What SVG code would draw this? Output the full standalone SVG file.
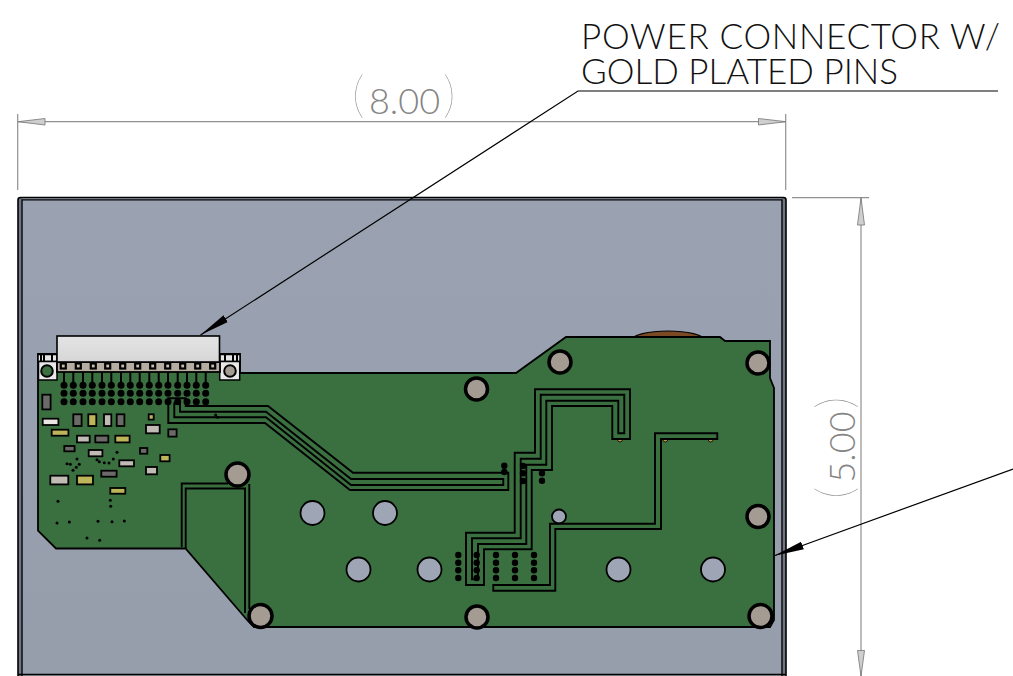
<svg xmlns="http://www.w3.org/2000/svg" xmlns:xlink="http://www.w3.org/1999/xlink" width="1013" height="676" viewBox="0 0 1013 676">
<style>
.ln{fill:none;stroke:#000;stroke-width:1.9;stroke-linejoin:miter}
.dim{fill:none;stroke:#909090;stroke-width:1.2}
.head{fill:#cfcfcf;stroke:#808080;stroke-width:.9}
.dt{font-family:"Lato","Liberation Sans",sans-serif;font-weight:300;fill:#858585;font-size:36px}
.par{font-family:"Lato","Liberation Sans",sans-serif;font-weight:100;fill:#8c8c8c;font-size:50px}
.lab{font-family:"Lato","Liberation Sans",sans-serif;font-weight:300;fill:#111;font-size:35px}
.lead{fill:none;stroke:#000;stroke-width:1.2}
.hole{fill:#a49b93;stroke:#000;stroke-width:3.5}
.thru{fill:#9ea5b5;stroke:#000;stroke-width:1.8}
.c{stroke:#000;stroke-width:1.8}
.y{fill:#bdb55a}.g{fill:#c0bbb4}.d{fill:#6b6a68}.w{fill:#e8e6e2}
.v{fill:#000}
</style>
<defs>
<linearGradient id="plate" x1="0" y1="0" x2="0" y2="1"><stop offset="0" stop-color="#9aa1b1"/><stop offset="1" stop-color="#969eac"/></linearGradient>
<linearGradient id="conn" x1="0" y1="0" x2="0" y2="1"><stop offset="0" stop-color="#e4e4e4"/><stop offset="1" stop-color="#d6d6d6"/></linearGradient>
<g id="pin"><rect x="-1" y="371" width="2" height="14" fill="#000"/><circle cy="385.300" r="3.500"/><circle cy="393.300" r="3.500"/><circle cy="401.700" r="3.500"/></g>
<g id="sq"><rect x="-2.500" y="363.500" width="5" height="5" fill="#c9c0b4" stroke="#000" stroke-width="2.200"/></g>
<marker id="arrow" markerUnits="userSpaceOnUse" markerWidth="32" markerHeight="10" refX="30" refY="5" orient="auto"><path d="M0 1L30 5L0 9Z" fill="#000"/></marker>
</defs>

<g id="plate-body">
<rect x="18" y="198" width="768" height="478" fill="url(#plate)"/>
<rect x="18" y="198" width="4.500" height="478" fill="#6f7685"/>
<rect x="781.500" y="198" width="4.500" height="478" fill="#6f7685"/>
<path d="M18 676V200Q18 197.500 20.500 197.500H783.500Q786 197.500 786 200V676" fill="none" stroke="#000" stroke-width="1.600"/>
<path d="M22 676V199.800H782V676" fill="none" stroke="#000" stroke-width="1.300"/>
<path d="M18 674.500H786" fill="none" stroke="#000" stroke-width="1.600"/>
</g>

<g id="pcb">
<ellipse cx="668" cy="340" rx="36" ry="9" fill="#7b4a24" stroke="#000" stroke-width="1.200"/>
<path d="M38 354V530.700L56 548.500H185.500L248 621L254 627H770L774 620V388L770 378V341H725L720 337H566L516 373H240V354Z" fill="#3a7040" stroke="#000" stroke-width="1.800"/>
<circle class="hole" cx="476.500" cy="389" r="11"/>
<circle class="hole" cx="560" cy="362" r="11"/>
<circle class="hole" cx="758" cy="363" r="11"/>
<circle class="hole" cx="758" cy="516.500" r="11"/>
<circle class="hole" cx="760.500" cy="616" r="11.500"/>
<circle class="hole" cx="477" cy="617" r="11"/>
<circle class="hole" cx="260.500" cy="616" r="11.500"/>
<circle class="hole" cx="237.500" cy="474.500" r="11.500"/>
<circle class="thru" cx="312.500" cy="513" r="12"/>
<circle class="thru" cx="385" cy="513" r="12"/>
<circle class="thru" cx="358.500" cy="569.500" r="12"/>
<circle class="thru" cx="429.500" cy="569.500" r="12"/>
<circle class="thru" cx="618.500" cy="569.500" r="12"/>
<circle class="thru" cx="713" cy="569.500" r="12"/>
<circle class="thru" cx="559" cy="516.500" r="7"/>
</g>

<g id="vias">
<use xlink:href="#pin" x="64"/><use xlink:href="#pin" x="73.300"/><use xlink:href="#pin" x="83"/><use xlink:href="#pin" x="92.300"/><use xlink:href="#pin" x="102"/><use xlink:href="#pin" x="111.300"/><use xlink:href="#pin" x="121"/><use xlink:href="#pin" x="130.300"/><use xlink:href="#pin" x="139.700"/><use xlink:href="#pin" x="149.300"/><use xlink:href="#pin" x="158.700"/><use xlink:href="#pin" x="168"/><use xlink:href="#pin" x="177.700"/><use xlink:href="#pin" x="187"/><use xlink:href="#pin" x="196.300"/><use xlink:href="#pin" x="205.700"/>
<g class="v">
<circle cx="117" cy="452.300" r="1.500"/><circle cx="77" cy="459" r="1.500"/><circle cx="67" cy="463.700" r="1.500"/><circle cx="70.300" cy="464.300" r="1.500"/><circle cx="79.300" cy="464.300" r="1.500"/><circle cx="76.300" cy="467.300" r="1.500"/><circle cx="73" cy="470.300" r="1.500"/><circle cx="97" cy="459.700" r="1.500"/><circle cx="99.300" cy="461.700" r="1.500"/><circle cx="104.300" cy="462.700" r="1.500"/><circle cx="109" cy="463" r="1.500"/><circle cx="113.300" cy="459" r="1.500"/><circle cx="58" cy="501.300" r="1.500"/><circle cx="110.300" cy="500.300" r="1.500"/><circle cx="110.700" cy="506.300" r="1.500"/><circle cx="57" cy="523" r="1.500"/><circle cx="69.300" cy="522" r="1.500"/><circle cx="98" cy="521.300" r="1.500"/><circle cx="112" cy="521.700" r="1.500"/><circle cx="124.300" cy="521" r="1.500"/><circle cx="87" cy="538" r="1.500"/><circle cx="99.700" cy="540.300" r="1.500"/><circle cx="215.700" cy="415" r="1.500"/><circle cx="217.700" cy="417.300" r="1.500"/>
<circle cx="504.300" cy="465.700" r="3.200"/><circle cx="504.300" cy="472" r="3.200"/><circle cx="523" cy="466" r="3.200"/><circle cx="523" cy="473.300" r="3.200"/><circle cx="523" cy="481" r="3.200"/><circle cx="542" cy="473.300" r="3.200"/><circle cx="542" cy="480.700" r="3.200"/>
<circle cx="458.300" cy="555" r="3.200"/><circle cx="458.300" cy="562.700" r="3.200"/><circle cx="458.300" cy="570.300" r="3.200"/><circle cx="458.300" cy="578" r="3.200"/>
<circle cx="476.700" cy="555" r="3.200"/><circle cx="476.700" cy="562.700" r="3.200"/><circle cx="476.700" cy="570.300" r="3.200"/><circle cx="476.700" cy="578" r="3.200"/>
<circle cx="496" cy="555" r="3.200"/><circle cx="496" cy="562.700" r="3.200"/><circle cx="496" cy="570.300" r="3.200"/><circle cx="496" cy="578" r="3.200"/>
<circle cx="515" cy="555" r="3.200"/><circle cx="515" cy="562.700" r="3.200"/><circle cx="515" cy="570.300" r="3.200"/><circle cx="515" cy="578" r="3.200"/>
<circle cx="534" cy="555" r="3.200"/><circle cx="534" cy="562.700" r="3.200"/><circle cx="534" cy="570.300" r="3.200"/><circle cx="534" cy="578" r="3.200"/>
</g>
<g fill="#b5983f" stroke="#000" stroke-width=".8"><path d="M617.500 439.500a2.500 2.500 0 0 0 5 0z"/><path d="M662.800 439.500a2.500 2.500 0 0 0 5 0z"/><path d="M708.200 439.500a2.500 2.500 0 0 0 5 0z"/></g>
</g>

<g id="connectors">
<path class="ln" d="M612.300 439V406H552V470H531.700V549.300H484V585H466V532.700H514.700V452.700H535V389.300H630V439Z"/>
<path class="ln" d="M624.300 433.300V394.700H540.700V458.700H520.700V538.300H472V579.300H478V544H526.300V464.700H546.300V400.700H618.300V433.300Z"/>
<path class="ln" d="M493.300 585.700V590.700H555.300V529H661V439H717.300V433.300H655V523.700H550V585H493.300Z"/>
<path class="ln" d="M168.300 398.300H185.700V406H268L353 472.700H508.300V490H350L265 423H168.300Z"/>
<path class="ln" d="M174.300 403.300H180V411.700H266L351 479H503.300V485H351L266 417.300H174.300Z"/>
<path class="ln" d="M181.700 547V483.500H228"/>
<path class="ln" d="M185.700 548V488.500H245V613"/>
<path class="ln" d="M249.300 484V609"/>
</g>

<g id="components" class="c">
<rect class="d" x="42.300" y="394.700" width="8.300" height="14.700"/>
<rect class="w" x="42.700" y="418.700" width="15.700" height="6.300"/>
<rect class="y" x="51.700" y="429.700" width="16.700" height="6"/>
<rect class="d" x="73.300" y="414.300" width="8.300" height="11.700"/>
<rect class="y" x="88.300" y="414.300" width="8" height="11.700"/>
<rect class="g" x="104" y="414.300" width="7.300" height="11.700"/>
<rect class="d" x="116.700" y="414.300" width="7.700" height="11.700"/>
<rect class="y" x="148.700" y="414.300" width="5" height="5.300"/>
<rect class="g" x="146" y="425" width="13.700" height="8.300"/>
<rect class="d" x="168.300" y="429.300" width="8.300" height="7.300"/>
<rect class="g" x="77" y="435.700" width="12.700" height="6.700"/>
<rect class="d" x="95.300" y="435.700" width="13" height="6.700"/>
<rect class="y" x="115.300" y="435.700" width="14.300" height="6.700"/>
<rect class="d" x="64.300" y="446" width="10.300" height="5.300"/>
<rect class="g" x="88.700" y="450" width="13.700" height="6.300"/>
<rect class="d" x="140" y="448" width="7.300" height="5.700"/>
<rect class="y" x="160.300" y="455" width="9.300" height="6.300"/>
<rect class="g" x="119.300" y="460.300" width="14.700" height="6"/>
<rect class="g" x="146" y="467" width="11" height="7.300"/>
<rect class="d" x="101.300" y="470.700" width="15.300" height="6"/>
<rect class="g" x="50.300" y="475.700" width="18" height="8.700"/>
<rect class="y" x="77" y="475.700" width="16" height="8.700"/>
<rect class="y" x="110.300" y="488" width="15" height="5.700"/>
</g>

<g id="power-connector">
<rect x="38" y="354.500" width="19" height="7" fill="#e6e6e6" stroke="#000" stroke-width="1.500"/>
<rect x="220" y="354.500" width="20" height="7" fill="#e6e6e6" stroke="#000" stroke-width="1.500"/>
<path d="M41 355v6M44 355v6M233 355v6M237 355v6M52 355v6M225 355v6" stroke="#000" stroke-width="2"/>
<rect x="38.500" y="361.500" width="18.500" height="18.500" fill="#e9e9e9" stroke="#000" stroke-width="1.500"/>
<rect x="219.700" y="361.500" width="20" height="18.500" fill="#e9e9e9" stroke="#000" stroke-width="1.500"/>
<circle cx="47" cy="371" r="5.800" fill="#3a7040" stroke="#000" stroke-width="2"/>
<circle cx="230" cy="371" r="5.800" fill="#a49b93" stroke="#000" stroke-width="2"/>
<rect x="57" y="362" width="163" height="10" fill="#b5aca2" stroke="#000" stroke-width="1.800"/>
<use xlink:href="#sq" x="63.300"/><use xlink:href="#sq" x="78.300"/><use xlink:href="#sq" x="93.300"/><use xlink:href="#sq" x="107.700"/><use xlink:href="#sq" x="122.700"/><use xlink:href="#sq" x="137.700"/><use xlink:href="#sq" x="152.700"/><use xlink:href="#sq" x="167.700"/><use xlink:href="#sq" x="182.700"/><use xlink:href="#sq" x="197.700"/><use xlink:href="#sq" x="212.700"/>
<rect x="57" y="336" width="162.500" height="26" fill="url(#conn)" stroke="#000" stroke-width="1.600"/>
</g>

<g id="dimensions">
<path class="dim" d="M17.700 114V190M785.700 114V190M18 121.700H786M792 197.700H869M861 198V676"/>
<path class="head" d="M18 121.700L45 118.500V125Z"/>
<path class="head" d="M786 121.700L758.500 118.500V125Z"/>
<path class="head" d="M861 198L857.500 225H864.500Z"/>
<path class="head" d="M861 676L857.500 650.500H864.500Z"/>
<text class="dt" x="404.500" y="114" text-anchor="middle">8.00</text>
<text class="par" x="352" y="112">(</text>
<text class="par" x="443" y="112">)</text>
<g transform="translate(855 447) rotate(-90)">
<text class="dt" x="0" y="0" text-anchor="middle">5.00</text>
<text class="par" x="-52" y="-3">(</text>
<text class="par" x="38" y="-3">)</text>
</g>
</g>

<g id="callouts">
<text class="lab" x="581" y="49" textLength="419">POWER CONNECTOR W/</text>
<text class="lab" x="581" y="84" textLength="317">GOLD PLATED PINS</text>
<path class="lead" d="M998 91H578L200.500 335" marker-end="url(#arrow)"/>
<path class="lead" d="M1013 469L774.300 555.700" marker-end="url(#arrow)"/>
</g>
</svg>
